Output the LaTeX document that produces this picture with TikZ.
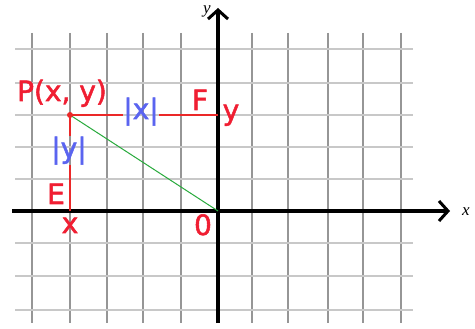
\documentclass[tikz,border=0pt]{standalone}
\usepackage{fontspec}
\newfontfamily\lblfont{DejaVu Sans}[FakeBold=1.8]
\newfontfamily\axisfont{Liberation Serif}
\usetikzlibrary{arrows.meta}
\definecolor{gridv}{RGB}{150,150,150}
\definecolor{gridh}{RGB}{200,200,200}
\definecolor{lblred}{RGB}{240,30,50}
\definecolor{lnred}{RGB}{235,40,40}
\definecolor{lblblue}{RGB}{90,100,240}
\definecolor{lngreen}{RGB}{40,170,60}
\tikzset{
  vgrid/.style={draw=gridv,line width=2pt},
  hgrid/.style={draw=gridh,line width=2pt},
  axis/.style={draw=black,line width=4pt,-{Straight Barb[length=9pt,width=20pt,line width=3pt]}},
  redlbl/.style={text=lblred,font=\lblfont\fontsize{28}{30}\selectfont,inner sep=0pt},
  bluelbl/.style={text=lblblue,font=\lblfont\fontsize{28}{30}\selectfont,inner sep=0pt},
  axlbl/.style={font=\axisfont\itshape\fontsize{17}{18}\selectfont,inner sep=0pt},
  redline/.style={draw=lnred,line width=1.5pt},
  greenline/.style={draw=lngreen,line width=1pt},
}
\begin{document}
\begin{tikzpicture}[x=1pt,y=-1pt]
\useasboundingbox[fill=white] (0,0) rectangle (475,329);
% grid
\foreach \gx in {32,70,107,143,181,252,288,328,363,401}
  \draw[vgrid] (\gx,33) -- (\gx,323);
\foreach \gy in {49,83,115,147,179,243,276,310}
  \draw[hgrid] (15,\gy) -- (413,\gy);
% axes
\coordinate (xs) at (12,211);
\coordinate (xe) at (450,211);
\coordinate (ys) at (218,323);
\coordinate (ye) at (218,8);
\draw[axis] (xs) -- (xe);
\draw[axis] (ys) -- (ye);
\node[axlbl,anchor=center] (xlab) at (466,212) {x};
\node[axlbl,anchor=center] (ylab) at (207,11) {y};
% points
\coordinate (P) at (70,115);
\coordinate (Fp) at (218,115);
\coordinate (Ep) at (70,211);
\coordinate (O) at (218,211);
% labels
\node[redlbl,anchor=base] (Plab) at (62,101) {P(x, y)};
\node[bluelbl,anchor=base] (absx) at (141,119) {|x|};
\node[bluelbl,anchor=base] (absy) at (69,158) {|y|};
\node[redlbl,anchor=base] (Flab) at (200,110) {F};
\node[redlbl,anchor=base] (ylbl) at (231,120) {y};
\node[redlbl,anchor=base] (Elab) at (56,204) {E};
\node[redlbl,anchor=base] (xlbl) at (70,233) {x};
\node[redlbl,anchor=base] (Olab) at (203,235) {0};
% lines
\draw[greenline] (P) -- (O);
\draw[redline] (P) -- (absx.west |- P);
\draw[redline] (absx.east |- P) -- (Fp);
\draw[redline] (P) -- (absy.north -| P);
\draw[redline] (absy.south -| P) -- (Ep);
\fill[lnred] (P) circle (3pt);
\end{tikzpicture}
\end{document}
